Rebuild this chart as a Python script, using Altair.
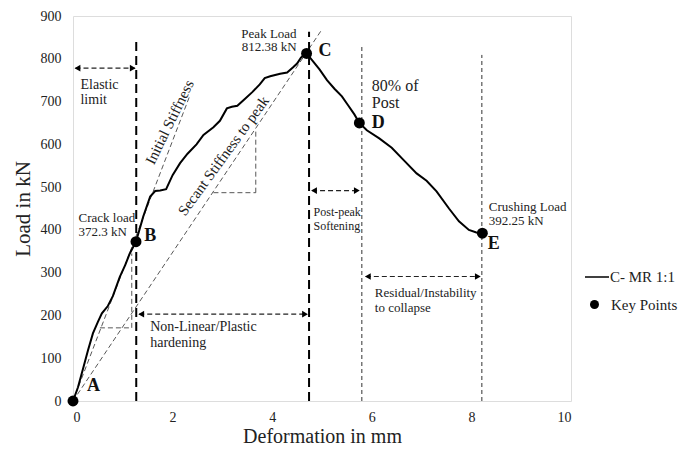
import altair as alt
import pandas as pd

FONT = "Liberation Serif"

# ---- load-deformation curve (C- MR 1:1) ----
curve_x = [0.0, 0.1, 0.2, 0.3, 0.4, 0.5, 0.58, 0.7, 0.8, 0.94, 1.05, 1.14, 1.265,
           1.41, 1.55, 1.65, 1.75, 1.87, 2.0, 2.15, 2.3, 2.48, 2.62, 2.82, 2.95,
           3.09, 3.19, 3.3, 3.45, 3.6, 3.75, 3.85, 3.96, 4.16, 4.3, 4.42, 4.5, 4.58, 4.69,
           4.8, 4.95, 5.1, 5.25, 5.4, 5.52, 5.65, 5.75, 5.9, 6.15, 6.4, 6.65,
           6.9, 7.1, 7.3, 7.55, 7.75, 7.95, 8.1, 8.22]
curve_y = [0, 32, 75, 118, 158, 185, 205, 222, 245, 290, 318, 345, 372.3,
           431, 478, 491, 492, 495, 528, 556, 578, 600, 622, 640, 655,
           684, 688, 690, 706, 722, 740, 755, 759, 765, 768, 780, 789, 803, 812.38,
           797, 775, 750, 730, 712, 692, 670, 650, 633, 614, 592, 562,
           532, 515, 490, 450, 420, 400, 394, 392.25]
curve_series = ["C- MR 1:1"] * len(curve_x)

# ---- key points ----
key_x = [0.0, 1.265, 4.69, 5.75, 8.22]
key_y = [0.0, 372.3, 812.38, 650.0, 392.25]
key_names = ["A", "B", "C", "D", "E"]
key_label_x = [0.41, 1.55, 5.06, 6.13, 8.45]
key_label_y = [34, 386, 819, 649, 366]

# ---- vertical dashed limits ----
thick_x = [1.27, 4.74]
thick_top = [840, 863]
thin_x = [5.80, 8.21]
thin_top = [828, 809]

# ---- stiffness guide segments (x1, y1, x2, y2) ----
seg_x1 = [0.0, 0.0, 0.54, 1.18, 2.82, 3.67]
seg_y1 = [0, 0, 171, 171, 487, 487]
seg_x2 = [2.35, 4.99, 1.18, 1.18, 3.67, 3.67]
seg_y2 = [715, 867, 171, 345, 487, 630]

# ---- double-headed arrows ----
arrow_x1 = [0.05, 1.33, 4.80, 5.88]
arrow_x2 = [1.24, 4.70, 5.74, 8.17]
arrow_y = [778, 203, 492, 291]

# ---- annotation texts ----
ann14_text = ["Elastic", "limit", "Non-Linear/Plastic", "hardening"]
ann14_x = [0.15, 0.15, 1.55, 1.55]
ann14_y = [739, 703, 173, 135]

ann13_text = ["Crack load", "372.3 kN", "Residual/Instability", " to collapse",
              "Crushing Load", "392.25 kN"]
ann13_x = [0.11, 0.11, 6.06, 6.06, 8.35, 8.35]
ann13_y = [427, 396, 252, 218, 454, 421]

peak_text = ["Peak Load", "812.38 kN"]
peak_x = [4.49, 4.49]
peak_y = [858, 828]

post_text = ["Post-peak", "Softening"]
post_x = [4.83, 4.83]
post_y = [441, 410]

pct_text = ["80% of", "Post"]
pct_x = [6.0, 6.0]
pct_y = [736, 696]

rot_text = ["Initial Stiffness", "Secant Stiffness to peak"]
rot_x = [1.94, 3.02]
rot_y = [652, 573]

x_ticks = [0, 2, 4, 6, 8, 10]
y_ticks = [0, 100, 200, 300, 400, 500, 600, 700, 800, 900]

xs = alt.Scale(domain=[0, 10], nice=False)
ys = alt.Scale(domain=[0, 900], nice=False)

curve_df = pd.DataFrame({"x": curve_x, "y": curve_y, "series": curve_series})
key_df = pd.DataFrame({"x": key_x, "y": key_y, "series": ["Key Points"] * 5})
klab_df = pd.DataFrame({"x": key_label_x, "y": key_label_y, "t": key_names})
thick_df = pd.DataFrame({"x": thick_x, "y": [0, 0], "y2": thick_top})
thin_df = pd.DataFrame({"x": thin_x, "y": [0, 0], "y2": thin_top})
seg_df = pd.DataFrame({"x": seg_x1, "y": seg_y1, "x2": seg_x2, "y2": seg_y2})
arr_df = pd.DataFrame({"x": arrow_x1, "x2": arrow_x2, "y": arrow_y})
left_heads = pd.DataFrame({"x": arrow_x1, "y": arrow_y})
right_heads = pd.DataFrame({"x": arrow_x2, "y": arrow_y})

X = alt.X("x:Q", scale=xs,
          axis=alt.Axis(values=x_ticks, title="Deformation in mm", grid=False,
                        domain=False, ticks=False, labelPadding=9,
                        labelFont=FONT, labelFontSize=14, labelColor="#222",
                        titleFont=FONT, titleFontSize=20, titleFontWeight="normal",
                        titleColor="#222", titleBaseline="alphabetic", titleY=41))
Y = alt.Y("y:Q", scale=ys,
          axis=alt.Axis(values=y_ticks, title="Load in kN", grid=False,
                        domain=False, ticks=False, labelPadding=12,
                        labelFont=FONT, labelFontSize=14, labelColor="#222",
                        titleFont=FONT, titleFontSize=21, titleFontWeight="normal",
                        titleColor="#222", titlePadding=7))

base_x = alt.X("x:Q", scale=xs)
base_y = alt.Y("y:Q", scale=ys)

curve = alt.Chart(curve_df).mark_line(strokeWidth=2).encode(
    x=X, y=Y,
    color=alt.Color("series:N", scale=alt.Scale(domain=["C- MR 1:1"], range=["black"]),
                    legend=alt.Legend(title=None, orient="none", legendX=511, legendY=248,
                                      labelFont=FONT, labelFontSize=15, labelColor="#222",
                                      symbolSize=576, symbolStrokeWidth=1.5,
                                      labelOffset=0, padding=0)))

thick = alt.Chart(thick_df).mark_rule(color="black", strokeWidth=2, strokeDash=[9, 5]).encode(
    x=base_x, y=base_y, y2="y2:Q")
thin = alt.Chart(thin_df).mark_rule(color="#333", strokeWidth=1, strokeDash=[4, 3]).encode(
    x=base_x, y=base_y, y2="y2:Q")
segs = alt.Chart(seg_df).mark_rule(color="#444", strokeWidth=0.9, strokeDash=[5, 3]).encode(
    x=base_x, y=base_y, x2="x2:Q", y2="y2:Q")
arrows = alt.Chart(arr_df).mark_rule(color="#222", strokeWidth=1.2, strokeDash=[5, 3]).encode(
    x=base_x, x2="x2:Q", y=base_y)
lh = alt.Chart(left_heads).mark_point(shape="triangle-left", filled=True, color="black",
                                      size=45, opacity=1, xOffset=2).encode(x=base_x, y=base_y)
rh = alt.Chart(right_heads).mark_point(shape="triangle-right", filled=True, color="black",
                                       size=45, opacity=1, xOffset=-2).encode(x=base_x, y=base_y)

keys = alt.Chart(key_df).mark_point(filled=True, color="black", size=120, opacity=1).encode(
    x=base_x, y=base_y,
    shape=alt.Shape("series:N",
                    scale=alt.Scale(domain=["Key Points"], range=["circle"]),
                    legend=alt.Legend(title=None, orient="none", legendX=514, legendY=281,
                                      labelFont=FONT, labelFontSize=15, labelColor="#222",
                                      symbolSize=81, symbolFillColor="black",
                                      labelOffset=9, padding=0)))


def txt(texts, xv, yv, size, align="left", angle=0, weight="normal"):
    df = pd.DataFrame({"x": xv, "y": yv, "t": texts})
    return alt.Chart(df).mark_text(font=FONT, fontSize=size, align=align, baseline="middle",
                                   angle=angle, fontWeight=weight, color="#222").encode(
        x=base_x, y=base_y, text="t:N")


klabels = alt.Chart(klab_df).mark_text(font=FONT, fontSize=18, fontWeight="bold",
                                       align="center", baseline="middle", color="#111").encode(
    x=base_x, y=base_y, text="t:N")

layers = [
    segs, thick, thin, arrows, lh, rh, curve, keys, klabels,
    txt(ann14_text, ann14_x, ann14_y, 14),
    txt(ann13_text, ann13_x, ann13_y, 13),
    txt(peak_text, peak_x, peak_y, 13, align="right"),
    txt(post_text, post_x, post_y, 12),
    txt(pct_text, pct_x, pct_y, 16),
    txt(rot_text[:1], rot_x[:1], rot_y[:1], 15, align="center", angle=296),
    txt(rot_text[1:], rot_x[1:], rot_y[1:], 15, align="center", angle=306),
]

chart = alt.layer(*layers).resolve_scale(color="independent", shape="independent").properties(
    width=498, height=385,
    autosize=alt.AutoSizeParams(type="none"),
    padding={"left": 65, "top": 8, "right": 108, "bottom": 45},
).configure_view(stroke="#cfcfcf", strokeWidth=1.5).configure(background="white")

chart.save("out.html", embed_options={"renderer": "svg", "actions": False})
